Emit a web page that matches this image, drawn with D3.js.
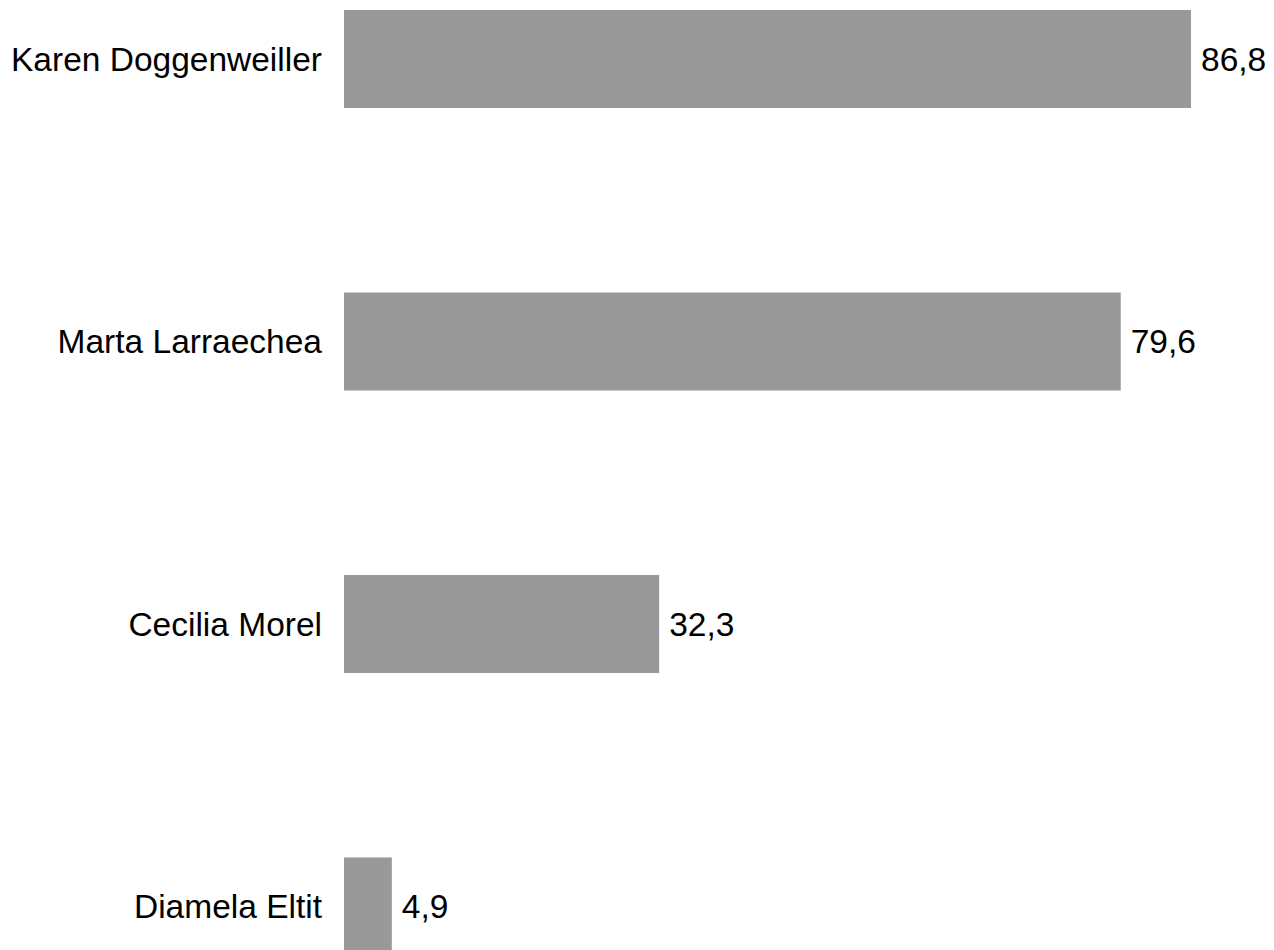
<!DOCTYPE html>
<html>
<head>
<meta charset="utf-8">
<script src="https://cdn.jsdelivr.net/npm/d3@7"></script>
<style>
  html, body { margin: 0; padding: 0; background: #ffffff; }
  svg { display: block; }
  text { font-family: "Liberation Sans", Arial, sans-serif; fill: #000; }
</style>
</head>
<body>
<svg id="chart" width="1274" height="950"></svg>
<script>
const categories = ["Karen Doggenweiller", "Marta Larraechea", "Cecilia Morel", "Diamela Eltit"];
const values = [86.8, 79.6, 32.3, 4.9];

const svg = d3.select("#chart");

const y = d3.scaleBand()
  .domain(categories)
  .range([10, 955.5])
  .paddingInner(0.653)
  .paddingOuter(0);

const x = d3.scaleLinear()
  .domain([0, d3.max(values)])
  .range([344, 1191]);

const locale = d3.formatLocale({decimal: ",", thousands: ".", grouping: [3], currency: ["", ""]});
const fmt = locale.format(".1f");

const data = categories.map((c, i) => ({cat: c, val: values[i]}));

svg.append("g").selectAll("rect")
  .data(data)
  .enter().append("rect")
  .attr("x", x(0))
  .attr("y", d => y(d.cat))
  .attr("width", d => x(d.val) - x(0))
  .attr("height", y.bandwidth())
  .attr("fill", "#999999");

// category labels
svg.append("g").selectAll("text")
  .data(data)
  .enter().append("text")
  .attr("x", x(0) - 22)
  .attr("y", d => y(d.cat) + y.bandwidth() / 2)
  .attr("dy", "0.35em")
  .attr("text-anchor", "end")
  .style("font-size", "33.5px")
  .text(d => d.cat);

// value labels
svg.append("g").selectAll("text")
  .data(data)
  .enter().append("text")
  .attr("x", d => x(d.val) + 10)
  .attr("y", d => y(d.cat) + y.bandwidth() / 2)
  .attr("dy", "0.35em")
  .attr("text-anchor", "start")
  .style("font-size", "33.5px")
  .text(d => fmt(d.val));
</script>
</body>
</html>
